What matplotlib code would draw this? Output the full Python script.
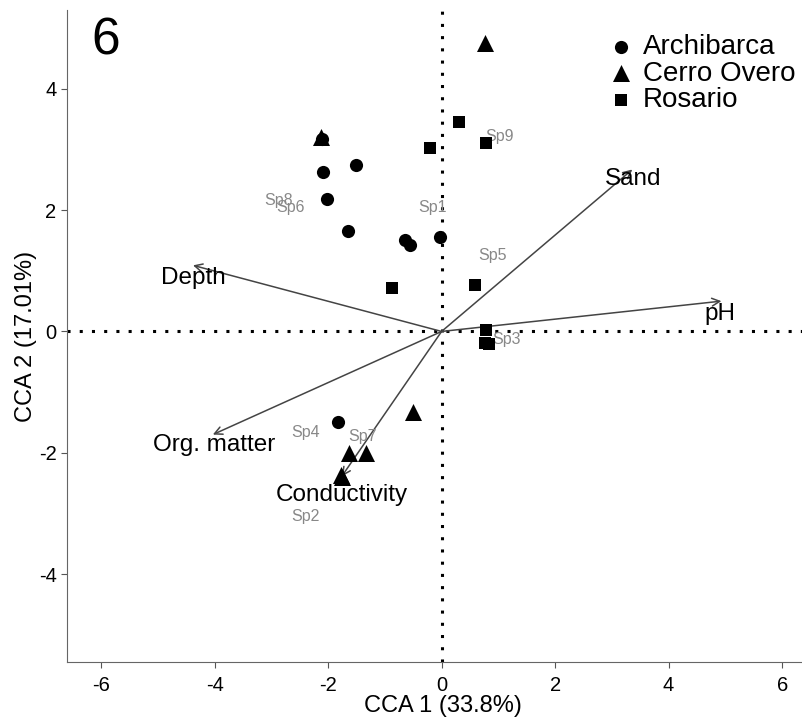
import matplotlib.pyplot as plt

plt.rcParams['font.family'] = ['Liberation Sans', 'DejaVu Sans']
plt.rcParams['axes.unicode_minus'] = False

# site scores (CCA 1, CCA 2)
archibarca_x = [-2.09, -1.50, -2.02, -1.65, -0.65, -0.56, -0.02, -1.83, -2.10]
archibarca_y = [2.63, 2.74, 2.18, 1.65, 1.50, 1.42, 1.56, -1.49, 3.17]
cerro_x = [-2.12, 0.77, -0.50, -1.64, -1.33, -1.76, -1.78]
cerro_y = [3.21, 4.76, -1.32, -2.00, -2.00, -2.40, -2.36]
rosario_x = [0.30, -0.21, 0.79, -0.87, 0.59, 0.79, 0.77, 0.83]
rosario_y = [3.45, 3.03, 3.10, 0.72, 0.76, 0.02, -0.19, -0.21]

# species scores
species = ['Sp1', 'Sp2', 'Sp3', 'Sp4', 'Sp5', 'Sp6', 'Sp7', 'Sp8', 'Sp9']
species_x = [-0.16, -2.40, 1.14, -2.39, 0.90, -2.66, -1.40, -2.88, 1.02]
species_y = [2.04, -3.05, -0.13, -1.66, 1.26, 2.04, -1.74, 2.16, 3.21]

# environmental vectors
env = ['Depth', 'Sand', 'pH', 'Org. matter', 'Conductivity']
env_x = [-4.38, 3.36, 4.93, -4.03, -1.76]
env_y = [1.09, 2.67, 0.50, -1.70, -2.39]
env_label_x = [-4.37, 3.38, 4.91, -4.01, -1.76]
env_label_y = [0.88, 2.51, 0.29, -1.88, -2.69]

fig = plt.figure(figsize=(8.02, 7.23), dpi=100)
ax = fig.add_axes([67 / 802, 61 / 723, 735 / 802, 652 / 723])

ax.axhline(0, color='black', linestyle=(0, (1, 3)), linewidth=2.2, zorder=1)
ax.axvline(0, color='black', linestyle=(0, (1, 3)), linewidth=2.2, zorder=1)

for lab, ex, ey, lx, ly in zip(env, env_x, env_y, env_label_x, env_label_y):
    ax.annotate('', xy=(ex, ey), xytext=(0, 0),
                arrowprops=dict(arrowstyle='->', color='#444444', lw=1.1,
                                mutation_scale=14, shrinkA=0, shrinkB=0),
                zorder=2)
    ax.text(lx, ly, lab, fontsize=17.5, ha='center', va='center', zorder=4)

for s, sx, sy in zip(species, species_x, species_y):
    ax.text(sx, sy, s, fontsize=11.5, color='#888888', ha='center', va='center', zorder=3)

ax.scatter(archibarca_x, archibarca_y, marker='o', s=90, color='black',
           label='Archibarca', zorder=5, linewidths=0)
ax.scatter(cerro_x, cerro_y, marker='^', s=150, color='black',
           label='Cerro Overo', zorder=5, linewidths=0)
ax.scatter(rosario_x, rosario_y, marker='s', s=85, color='black',
           label='Rosario', zorder=5, linewidths=0)

ax.set_xlim(-6.6, 6.35)
ax.set_ylim(-5.45, 5.3)
ax.set_xticks([-6, -4, -2, 0, 2, 4, 6])
ax.set_yticks([-4, -2, 0, 2, 4])
ax.tick_params(labelsize=14.5, color='#555555', length=4)
ax.tick_params(axis='x', pad=6)
for side in ['top', 'right']:
    ax.spines[side].set_visible(False)
for side in ['left', 'bottom']:
    ax.spines[side].set_color('#666666')

ax.set_xlabel('CCA 1 (33.8%)', fontsize=17)
ax.xaxis.set_label_coords(0.512, -0.051)
ax.set_ylabel('CCA 2 (17.01%)', fontsize=17, labelpad=1)

ax.text(0.033, 0.99, '6', transform=ax.transAxes, fontsize=37, va='top', ha='left')

ax.legend(loc='upper left', bbox_to_anchor=(0.7347, 0.963), frameon=False, fontsize=20,
          handletextpad=0.3, labelspacing=0.02, borderpad=0, borderaxespad=0,
          handlelength=1.0, markerscale=1.0)

fig.savefig('out.png', dpi=100)
